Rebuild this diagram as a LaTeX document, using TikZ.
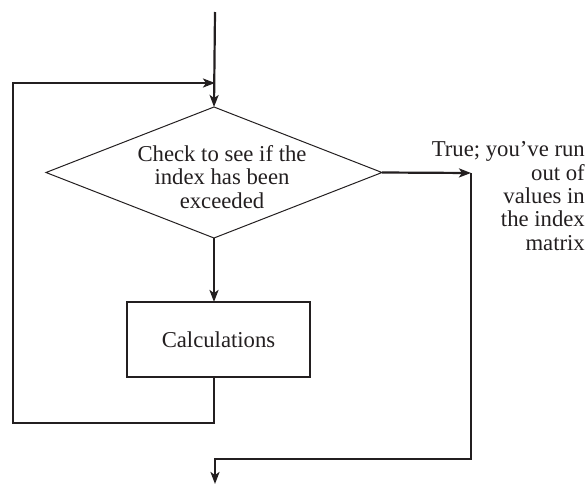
\documentclass[tikz,border=0pt]{standalone}
\usepackage{fontspec}
\setmainfont{Liberation Serif}
\usetikzlibrary{shapes.geometric,arrows.meta}
\definecolor{ink}{HTML}{231F20}
\tikzset{
  flow/.style={draw=ink,line width=2.2pt,-{Stealth[length=12pt,width=9pt,inset=3pt]}},
  decision/.style={diamond,draw=ink,line width=1pt,minimum width=336pt,minimum height=131pt,inner sep=0pt,outer sep=0pt},
  process/.style={rectangle,draw=ink,line width=1.2pt,minimum width=183pt,minimum height=75pt,inner sep=0pt,outer sep=0pt},
  txt/.style={text=ink,font=\fontsize{22.7}{23.3}\selectfont,inner sep=0pt}
}
\begin{document}
\begin{tikzpicture}[x=1pt,y=-1pt]
\useasboundingbox (0,0) rectangle (587,485);
\node[decision] (d) at (214,172.5) {};
\node[txt,align=center] (dt) at (222,177) {Check to see if the\\index has been\\exceeded};
\node[process] (c) at (218.5,339.5) {};
\node[txt] (ct) at (218.5,339.5) {Calculations};
\node[txt,align=right,anchor=north east] (lab) at (585,141.5) {True; you’ve run\\out of\\values in\\the index\\matrix};
\coordinate (start) at (215,12);
\coordinate (lb) at (13,423);
\coordinate (lt) at (13,83);
\coordinate (j) at (215,83);
\coordinate (r1) at (471,173);
\coordinate (rb) at (471,459);
\coordinate (out) at (215,484);
\draw[flow] (start) -- (d.north);
\draw[flow] (d.south) -- (c.north -| d.south);
\draw[flow] (c.south -| d.south) |- (lb) -- (lt) -- (j);
\draw[flow] (d.east) -- (r1);
\draw[flow] (r1) -- (rb) -| (out);
\end{tikzpicture}
\end{document}
